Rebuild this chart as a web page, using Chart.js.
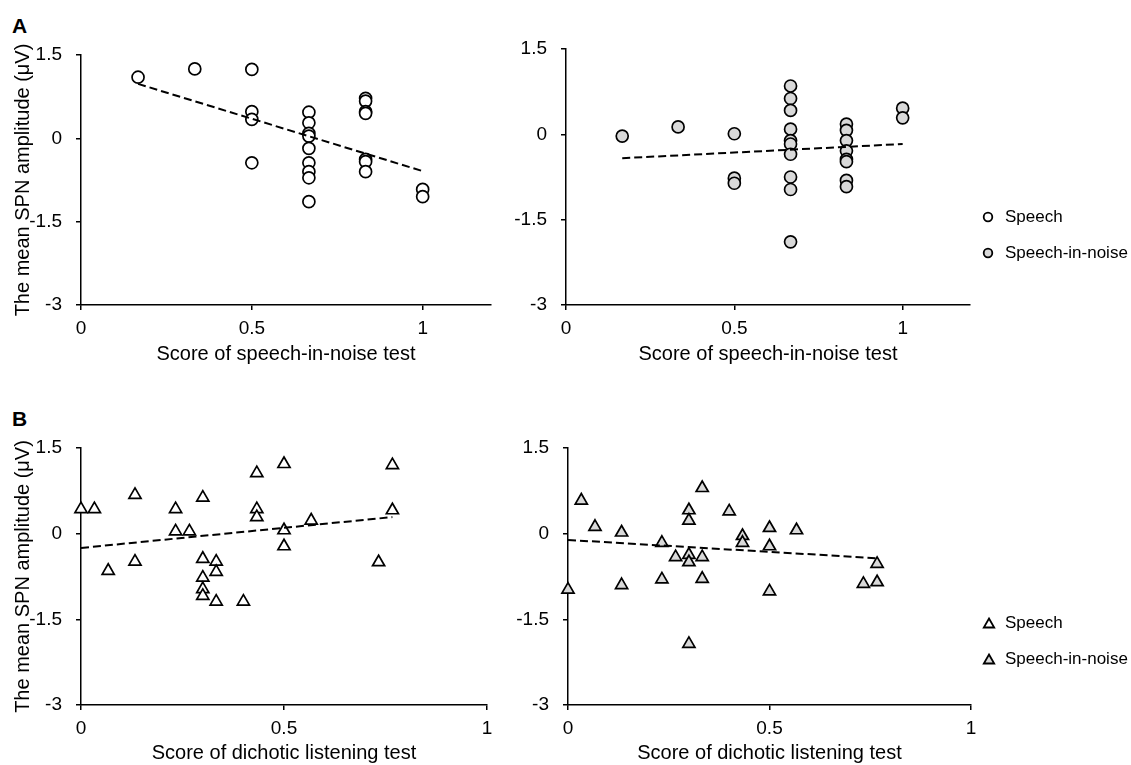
<!DOCTYPE html>
<html>
<head>
<meta charset="utf-8">
<script src="https://cdn.jsdelivr.net/npm/chart.js@4"></script>
<style>
  body { margin: 0; background: #fff; }
  #wrap { position: relative; width: 1131px; height: 765px; overflow: hidden; }
  canvas { position: absolute; }
  .tag { position: absolute; left: 12px; font: bold 21px "Liberation Sans", Arial, sans-serif; line-height: 21px; color: #000; }
</style>
</head>
<body>
<div id="wrap">
  <div class="tag" style="top:15px">A</div>
  <div class="tag" style="top:408px">B</div>
  <canvas id="a1" width="500" height="380" style="left:0;top:0"></canvas>
  <canvas id="a2" width="631" height="380" style="left:500px;top:0"></canvas>
  <canvas id="b1" width="500" height="385" style="left:0;top:380px"></canvas>
  <canvas id="b2" width="631" height="385" style="left:500px;top:380px"></canvas>
</div>
<script>
// axis ticks and series names
const xTicks = [0, 0.5, 1];
const yTicks = [-3, -1.5, 0, 1.5];
const seriesNames = ['Speech', 'Speech-in-noise'];

// A, left: speech-in-noise score vs SPN (speech)
const sinSpeechX = [0.167, 0.333, 0.5, 0.5, 0.5, 0.5,
  0.667, 0.667, 0.667, 0.667, 0.667, 0.667, 0.667, 0.667, 0.667,
  0.833, 0.833, 0.833, 0.833, 0.833, 0.833, 0.833, 1, 1];
const sinSpeechY = [1.10, 1.25, 1.24, 0.48, 0.34, -0.44,
  0.47, 0.28, 0.09, 0.04, -0.18, -0.44, -0.60, -0.71, -1.14,
  0.72, 0.67, 0.48, 0.45, -0.38, -0.42, -0.60, -0.92, -1.05];
const sinSpeechFitX = [0.167, 1];
const sinSpeechFitY = [0.98, -0.59];

// A, right: speech-in-noise score vs SPN (speech-in-noise)
const sinNoiseX = [0.167, 0.333, 0.5, 0.5, 0.5,
  0.667, 0.667, 0.667, 0.667, 0.667, 0.667, 0.667, 0.667, 0.667, 0.667,
  0.833, 0.833, 0.833, 0.833, 0.833, 0.833, 0.833, 0.833, 1, 1];
const sinNoiseY = [-0.03, 0.13, 0.01, -0.77, -0.86,
  0.85, 0.63, 0.42, 0.09, -0.11, -0.17, -0.35, -0.75, -0.97, -1.89,
  0.18, 0.07, -0.11, -0.29, -0.44, -0.48, -0.81, -0.92, 0.46, 0.29];
const sinNoiseFitX = [0.167, 1];
const sinNoiseFitY = [-0.42, -0.17];

// B, left: dichotic listening score vs SPN (speech)
const dlSpeechX = [0, 0.033, 0.067, 0.133, 0.133, 0.233, 0.233, 0.267,
  0.3, 0.3, 0.3, 0.3, 0.3, 0.333, 0.333, 0.333, 0.4,
  0.433, 0.433, 0.433, 0.5, 0.5, 0.5, 0.567, 0.733, 0.767, 0.767];
const dlSpeechY = [0.43, 0.43, -0.65, 0.68, -0.49, 0.43, 0.04, 0.04,
  0.63, -0.44, -0.77, -0.97, -1.09, -0.49, -0.67, -1.19, -1.19,
  1.06, 0.43, 0.29, 1.22, 0.06, -0.22, 0.23, -0.50, 1.20, 0.41];
const dlSpeechFitX = [0, 0.767];
const dlSpeechFitY = [-0.25, 0.29];

// B, right: dichotic listening score vs SPN (speech-in-noise)
const dlNoiseX = [0, 0.033, 0.067, 0.133, 0.133, 0.233, 0.233, 0.267,
  0.3, 0.3, 0.3, 0.3, 0.3, 0.333, 0.333, 0.333, 0.4, 0.433, 0.433,
  0.5, 0.5, 0.5, 0.567, 0.733, 0.767, 0.767];
const dlNoiseY = [-0.98, 0.58, 0.12, 0.02, -0.90, -0.16, -0.80, -0.41,
  0.41, 0.23, -0.37, -0.50, -1.93, 0.80, -0.41, -0.79, 0.39, -0.04, -0.16,
  0.10, -0.22, -1.01, 0.06, -0.88, -0.53, -0.85];
const dlNoiseFitX = [0, 0.767];
const dlNoiseFitY = [-0.11, -0.43];

const ink = '#000';
const fills = ['#ffffff', '#d9d9d9'];
Chart.defaults.font.family = '"Liberation Sans", Arial, sans-serif';
Chart.defaults.color = ink;

const pts = (xs, ys) => xs.map((x, i) => ({ x: x, y: ys[i] }));

// legend drawn beside the right-hand panel
const sideLegend = {
  id: 'sideLegend',
  afterDraw(chart, args, opts) {
    if (!opts.show) return;
    const ctx = chart.ctx;
    ctx.save();
    ctx.lineWidth = 1.8;
    ctx.strokeStyle = ink;
    ctx.font = '17px "Liberation Sans", Arial, sans-serif';
    ctx.textBaseline = 'middle';
    seriesNames.forEach((name, i) => {
      const y = opts.y + i * opts.gap;
      ctx.fillStyle = fills[i];
      Chart.helpers.drawPoint(ctx, { pointStyle: opts.style, radius: opts.radius, borderWidth: 1.8, rotation: 0 }, opts.x, y + opts.dy);
      ctx.fillStyle = ink;
      ctx.fillText(name, opts.textX, y);
    });
    ctx.restore();
  }
};

function panel(id, o) {
  return new Chart(document.getElementById(id), {
    type: 'scatter',
    data: {
      datasets: [
        {
          label: 'fit',
          data: pts(o.fitX, o.fitY),
          showLine: true,
          borderColor: ink,
          borderWidth: 2,
          borderDash: [8, 4],
          pointRadius: 0,
          order: 1
        },
        {
          label: o.label,
          data: pts(o.xs, o.ys),
          pointStyle: o.marker,
          pointRadius: o.r,
          borderWidth: 1.7,
          backgroundColor: o.fill,
          borderColor: ink,
          clip: false,
          order: 2
        }
      ]
    },
    options: {
      responsive: false,
      animation: false,
      events: [],
      layout: { padding: o.pad },
      plugins: {
        legend: { display: false },
        tooltip: { enabled: false },
        sideLegend: o.legend || { show: false }
      },
      scales: {
        x: {
          min: 0,
          max: o.xMax,
          afterBuildTicks: s => { s.ticks = xTicks.map(v => ({ value: v })); },
          afterFit: s => { s.height = o.xh; },
          ticks: { padding: 7, font: { size: 19 }, callback: v => String(v) },
          grid: { drawOnChartArea: false, tickLength: 5, color: ink, lineWidth: 1.5 },
          border: { color: ink, width: 1.5 },
          title: { display: true, text: o.xTitle, font: { size: 20 }, padding: { top: 0, bottom: o.xtPad } }
        },
        y: {
          min: -3,
          max: 1.5,
          afterBuildTicks: s => { s.ticks = yTicks.map(v => ({ value: v })); },
          afterFit: s => { s.width = o.yw; },
          ticks: { padding: 14, font: { size: 19 }, callback: v => String(v) },
          grid: { drawOnChartArea: false, tickLength: 5, color: ink, lineWidth: 1.5 },
          border: { color: ink, width: 1.5 },
          title: { display: o.yTitle, text: 'The mean SPN amplitude (μV)', font: { size: 20 }, padding: { top: 11, bottom: 0 } }
        }
      }
    },
    plugins: [sideLegend]
  });
}

panel('a1', {
  label: seriesNames[0], xs: sinSpeechX, ys: sinSpeechY, fitX: sinSpeechFitX, fitY: sinSpeechFitY,
  marker: 'circle', r: 6, fill: fills[0], xMax: 1.2, xTitle: 'Score of speech-in-noise test',
  pad: { top: 55, right: 9, left: 0, bottom: 0 }, yw: 81, xh: 75, xtPad: 14, yTitle: true
});
panel('a2', {
  label: seriesNames[1], xs: sinNoiseX, ys: sinNoiseY, fitX: sinNoiseFitX, fitY: sinNoiseFitY,
  marker: 'circle', r: 6, fill: fills[1], xMax: 1.2, xTitle: 'Score of speech-in-noise test',
  pad: { top: 49, right: 161, left: 0, bottom: 0 }, yw: 66, xh: 75, xtPad: 14, yTitle: false,
  legend: { show: true, style: 'circle', radius: 4.3, x: 488, y: 217, gap: 36, dy: 0, textX: 505 }
});
panel('b1', {
  label: seriesNames[0], xs: dlSpeechX, ys: dlSpeechY, fitX: dlSpeechFitX, fitY: dlSpeechFitY,
  marker: 'triangle', r: 7, fill: fills[0], xMax: 1, xTitle: 'Score of dichotic listening test',
  pad: { top: 68, right: 13, left: 0, bottom: 0 }, yw: 81, xh: 60, xtPad: 0, yTitle: true
});
panel('b2', {
  label: seriesNames[1], xs: dlNoiseX, ys: dlNoiseY, fitX: dlNoiseFitX, fitY: dlNoiseFitY,
  marker: 'triangle', r: 7, fill: fills[1], xMax: 1, xTitle: 'Score of dichotic listening test',
  pad: { top: 68, right: 160, left: 0, bottom: 0 }, yw: 68, xh: 60, xtPad: 0, yTitle: false,
  legend: { show: true, style: 'triangle', radius: 6, x: 489, y: 243, gap: 36, dy: 1.5, textX: 505 }
});
</script>
</body>
</html>
